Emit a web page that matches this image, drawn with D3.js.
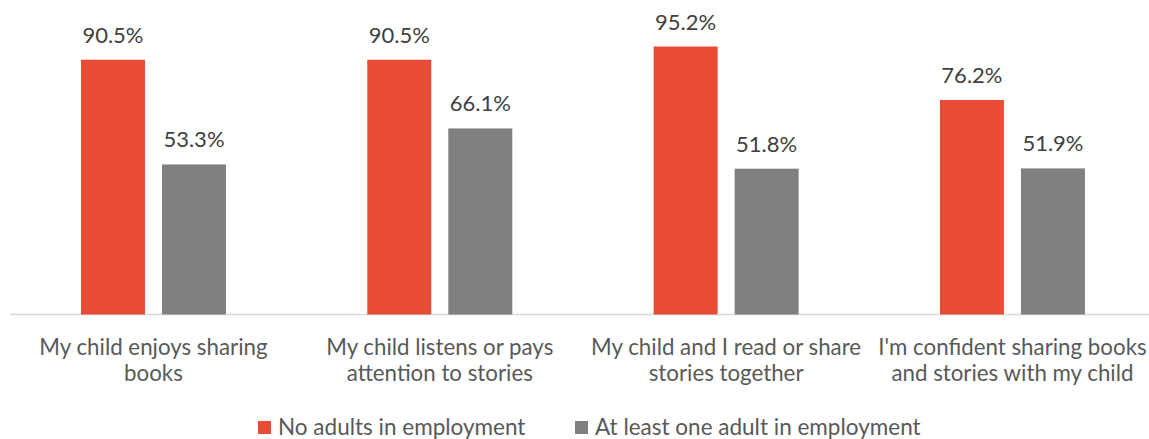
<!DOCTYPE html>
<html><head><meta charset="utf-8">
<script src="https://cdn.jsdelivr.net/npm/d3@7"></script>
<style>body{margin:0;background:#fff}svg{display:block}text{font-family:Lato,"Noto Sans",sans-serif}</style>
</head><body><svg id="c" width="1149" height="439"></svg>
<script>
const categories = [
  ["My child enjoys sharing","books"],
  ["My child listens or pays","attention to stories"],
  ["My child and I read or share","stories together"],
  ["I'm confident sharing books","and stories with my child"]
];
const seriesNames = ["No adults in employment","At least one adult in employment"];
const noAdults = [90.5, 90.5, 95.2, 76.2];
const atLeastOne = [53.3, 66.1, 51.8, 51.9];
const colors = ["#E94C35","#808080"];

const svg = d3.select("#c");
const catIdx = categories.map((d,i)=>i);
const x0 = d3.scaleBand().domain(catIdx).range([10.3,1155.6]).paddingInner(0).paddingOuter(0);
const x1 = d3.scaleBand().domain([0,1]).range([0,x0.bandwidth()]).paddingInner(0.21).paddingOuter(0.872);
const y = d3.scaleLinear().domain([0,100]).range([314.5,33]);
const series = [noAdults, atLeastOne];

svg.append("line").attr("x1",10).attr("x2",1149).attr("y1",y(0)).attr("y2",y(0))
  .attr("stroke","#d9d9d9").attr("stroke-width",1.5);

const g = svg.append("g");
catIdx.forEach(i=>{
  series.forEach((s,j)=>{
    const bx = x0(i)+x1(j);
    g.append("rect").attr("x",bx).attr("y",y(s[i])).attr("width",x1.bandwidth())
      .attr("height",y(0)-y(s[i])).attr("fill",colors[j]);
    g.append("text").attr("x",bx+x1.bandwidth()/2).attr("y",y(s[i])-17)
      .attr("text-anchor","middle").attr("font-size",22).attr("fill","#404040")
      .text(s[i].toFixed(1)+"%");
  });
  const t = g.append("text").attr("text-anchor","middle").attr("font-size",22.3).attr("fill","#595959");
  categories[i].forEach((line,k)=>{
    t.append("tspan").attr("x",x0(i)+x0.bandwidth()/2).attr("y",355+k*26).text(line);
  });
});

const legX = [258,575];
seriesNames.forEach((n,j)=>{
  svg.append("rect").attr("x",legX[j]).attr("y",421).attr("width",13).attr("height",13).attr("fill",colors[j]);
  svg.append("text").attr("x",legX[j]+20).attr("y",435).attr("font-size",22.5).attr("fill","#595959").text(n);
});
</script></body></html>
